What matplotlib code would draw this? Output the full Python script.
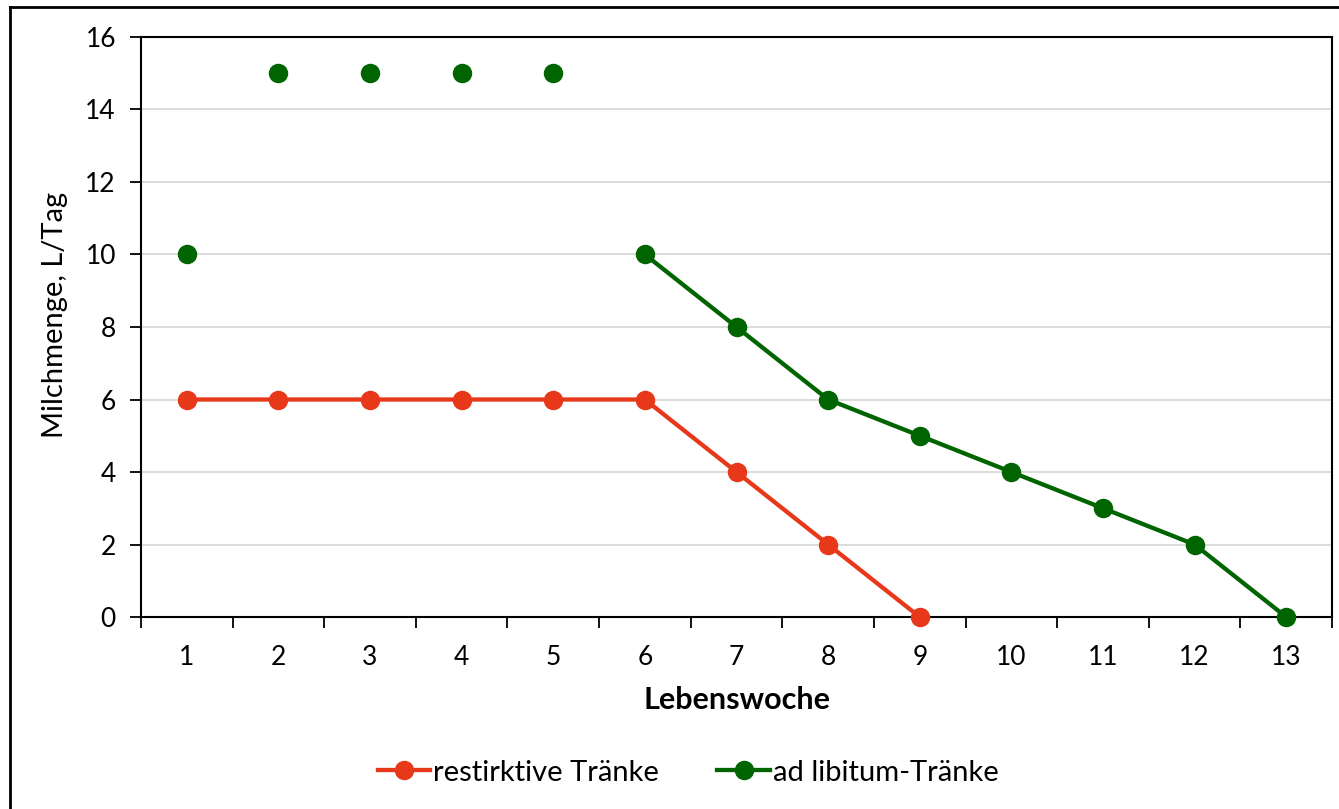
import matplotlib.pyplot as plt
from matplotlib.lines import Line2D

#%% data

weeks = list(range(1, 14))
restriktiv_weeks = [1, 2, 3, 4, 5, 6, 7, 8, 9]
restriktiv = [6, 6, 6, 6, 6, 6, 4, 2, 0]
adlib = [10, 15, 15, 15, 15, 10, 8, 6, 5, 4, 3, 2, 0]

red = "#E8381A"
green = "#006400"

#%% plotting

plt.rcParams['font.family'] = ['Lato', 'DejaVu Sans']

fig = plt.figure(figsize=(13.39, 8.09), dpi=100)
ax = fig.add_axes([0.1053, 0.2373, 0.8895, 0.717])

ax.plot(restriktiv_weeks, restriktiv, color=red, lw=3.1, marker="o", ms=13,
        clip_on=False, zorder=3, label="restirktive Tränke")
# first weeks are single points without a connecting line
ax.plot(weeks[:5], adlib[:5], color=green, ls="none", marker="o", ms=13,
        clip_on=False, zorder=3)
ax.plot(weeks[5:], adlib[5:], color=green, lw=3.1, marker="o", ms=13,
        clip_on=False, zorder=3, label="ad libitum-Tränke")

ax.set_xlim(0.5, 13.5)
ax.set_ylim(0, 16)
ax.set_yticks(range(0, 17, 2))
ax.set_xticks(weeks)
ax.set_xticks([w + 0.5 for w in range(0, 14)], minor=True)
ax.tick_params(axis="x", which="major", length=0, pad=20, labelsize=19)
ax.tick_params(axis="x", which="minor", length=8, width=1.3, direction="out")
ax.tick_params(axis="y", length=8, width=1.3, pad=10, labelsize=19)
ax.grid(axis="y", color="#d9d9d9", lw=1.3)
ax.set_axisbelow(True)
for s in ax.spines.values():
    s.set_color("black")
    s.set_linewidth(1.5)

ax.set_xlabel("Lebenswoche", fontsize=22, fontweight="bold", labelpad=12)
ax.set_ylabel("Milchmenge, L/Tag", fontsize=21)
ax.yaxis.set_label_coords(-0.061, 0.52)

ax.legend(loc="center", bbox_to_anchor=(0.514, 0.045), bbox_transform=fig.transFigure,
          ncol=2, frameon=False, fontsize=21, handlelength=1.8, handletextpad=0.1,
          columnspacing=2.0)

# outer chart border (left and top only visible)
fig.add_artist(Line2D([0.0075, 0.0075], [0, 0.9915], color="black", lw=2, transform=fig.transFigure))
fig.add_artist(Line2D([0.0075, 1.0], [0.9915, 0.9915], color="black", lw=2, transform=fig.transFigure))

fig.savefig("out.png", dpi=100)
